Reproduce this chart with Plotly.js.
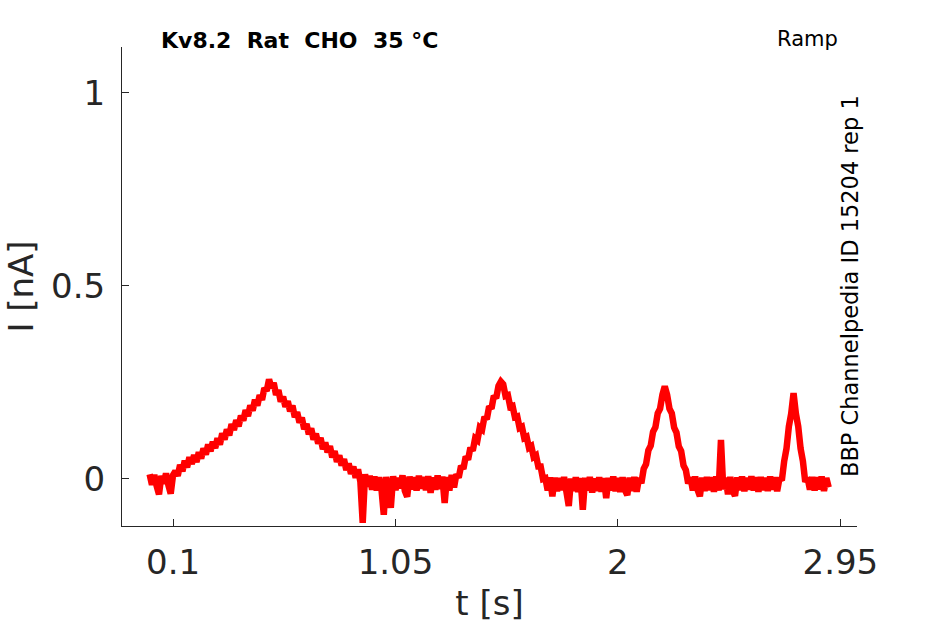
<!DOCTYPE html>
<html>
<head>
<meta charset="utf-8">
<script src="https://cdn.plot.ly/plotly-3.0.1.min.js"></script>
<style>
  html, body { margin: 0; padding: 0; background: #fff; }
  #chart { width: 945px; height: 624px; }
</style>
</head>
<body>
<div id="chart"></div>
<script>
// ── Recorded current, sampled every 10 ms from t = 0 s ─────────
var tStart = 0;
var tStep  = 0.01;

// 0.00 – 0.10 s  holding
var holdStart = [0.012, -0.015, 0.010, -0.018, -0.040, 0.008, -0.012, 0.014, -0.016, -0.038, 0.010];

// 0.11 – 0.51 s  slow ramp up
var ramp1Up = [0.020, 0.008, 0.036, 0.020, 0.047, 0.030, 0.056, 0.039, 0.062, 0.044,
               0.069, 0.053, 0.079, 0.063, 0.089, 0.072, 0.096, 0.080, 0.105, 0.089,
               0.118, 0.102, 0.128, 0.113, 0.142, 0.127, 0.152, 0.136, 0.164, 0.151,
               0.178, 0.163, 0.190, 0.177, 0.205, 0.190, 0.217, 0.205, 0.235, 0.228,
               0.258];

// 0.52 – 0.93 s  slow ramp down
var ramp1Down = [0.236, 0.249, 0.218, 0.230, 0.200, 0.213, 0.187, 0.201, 0.175, 0.190,
                 0.160, 0.173, 0.146, 0.159, 0.129, 0.142, 0.116, 0.131, 0.102, 0.117,
                 0.092, 0.106, 0.077, 0.094, 0.069, 0.085, 0.056, 0.072, 0.044, 0.061,
                 0.035, 0.051, 0.023, 0.040, 0.013, 0.032, 0.003, 0.025, -0.007, -0.114,
                 0.012, -0.020];

// 0.94 – 1.30 s  holding
var hold1 = [0.008, -0.028, 0.006, -0.030, 0.004, -0.026,
             -0.093, 0.005, -0.027, -0.075, 0.007, -0.029, 0.003, -0.024, 0.009, -0.031,
             -0.046, 0.006, -0.027, 0.004, -0.030, 0.008, -0.025, 0.005, -0.029, 0.007,
             -0.036, 0.004, -0.028, 0.009, -0.026, 0.006, -0.062, 0.005, -0.030, 0.010,
             -0.022];

// 1.31 – 1.50 s  ramp up
var ramp2Up = [0.012, 0.003, 0.034, 0.026, 0.058, 0.050, 0.081, 0.073, 0.105, 0.100,
               0.133, 0.128, 0.161, 0.155, 0.188, 0.182, 0.215, 0.209, 0.241, 0.252];

// 1.51 – 1.69 s  ramp down
var ramp2Down = [0.245, 0.215, 0.217, 0.187, 0.189, 0.160, 0.162, 0.132, 0.135, 0.106,
                 0.109, 0.081, 0.085, 0.057, 0.061, 0.032, 0.032, 0.000, 0.002];

// 1.70 – 2.09 s  holding
var hold2 = [-0.030, 0.004, -0.045, 0.003, -0.032, 0.002, -0.029, 0.005, -0.033, -0.070,
             0.001, -0.031, 0.004, -0.034, 0.002, -0.080, 0.003, -0.030, 0.005, -0.035,
             0.001, -0.031, 0.004, -0.033, 0.002, -0.050, 0.003, -0.030, 0.006, -0.032,
             0.002, -0.034, 0.004, -0.029, -0.042, 0.003, -0.031, 0.005, -0.033, 0.002];

// 2.10 – 2.30 s  fast ramp up and down
var ramp3 = [-0.011, 0.026, 0.038, 0.074, 0.086, 0.122, 0.134, 0.170, 0.182, 0.218,
             0.240, 0.218, 0.182, 0.170, 0.133, 0.120, 0.084, 0.072, 0.035, 0.023,
             -0.012];

// 2.31 – 2.69 s  holding
var hold3 = [0.004, -0.030, 0.006, -0.028, -0.045, 0.003, -0.031, 0.005, -0.029,
             0.004, -0.033, 0.006, -0.030, 0.101, -0.027, 0.003, -0.040, 0.005, -0.031,
             -0.044, 0.004, -0.029, 0.006, -0.032, 0.003, -0.028, 0.007, -0.030, 0.004,
             -0.033, 0.005, -0.029, 0.003, -0.031, 0.006, -0.028, 0.004, -0.032, 0.002];

// 2.70 – 2.80 s  fastest ramp
var ramp4 = [-0.004, 0.046, 0.079, 0.136, 0.169, 0.222, 0.169, 0.136, 0.079, 0.046, -0.008];

// 2.81 – 2.90 s  holding
var holdEnd = [0.003, -0.028, 0.005, -0.030, 0.004, -0.027, 0.006, -0.031, 0.002, -0.022];

// axis ticks
var xTicks  = [0.1, 1.05, 2, 2.95];
var xLabels = ['0.1', '1.05', '2', '2.95'];
var yTicks  = [0, 0.5, 1];
var yLabels = ['0', '0.5', '1'];

var current = [].concat(holdStart, ramp1Up, ramp1Down, hold1, ramp2Up, ramp2Down,
                        hold2, ramp3, hold3, ramp4, holdEnd);

// ── Style ─────────────────────────────────────────────────────
var AX   = '#262626';
var FONT = 'DejaVu Sans, sans-serif';

var trace = {
    y: current, x0: tStart, dx: tStep,
    type: 'scatter', mode: 'lines',
    line: { color: '#ff0000', width: 6.5, simplify: false },
    hoverinfo: 'skip', showlegend: false
};

var axisCommon = {
    showline: true, linecolor: AX, linewidth: 1,
    ticks: 'inside', ticklen: 7, tickwidth: 1, tickcolor: AX,
    showgrid: false, zeroline: false, mirror: false,
    tickfont: { family: FONT, size: 34, color: AX }
};

var layout = {
    width: 945, height: 624,
    margin: { l: 122, r: 88, t: 47, b: 98 },
    paper_bgcolor: '#fff', plot_bgcolor: '#fff',
    showlegend: false,
    xaxis: Object.assign({}, axisCommon, {
        range: [-0.118, 3.021],
        tickmode: 'array', tickvals: xTicks, ticktext: xLabels,
        ticklabelstandoff: 6,
        title: { text: 't [s]', font: { family: FONT, size: 34, color: AX }, standoff: 10 }
    }),
    yaxis: Object.assign({}, axisCommon, {
        range: [-0.122, 1.119],
        tickmode: 'array', tickvals: yTicks, ticktext: yLabels,
        ticklabelstandoff: 9,
        title: { text: 'I [nA]', font: { family: FONT, size: 34, color: AX }, standoff: 7 }
    }),
    annotations: [
        { xref: 'paper', yref: 'paper', x: 0.050, y: 1.0146, xanchor: 'left', yanchor: 'middle',
          text: '<b>Kv8.2\u00a0\u00a0Rat\u00a0\u00a0CHO\u00a0\u00a035\u00a0°C</b>', showarrow: false,
          font: { family: FONT, size: 22, color: '#000' } },
        { xref: 'paper', yref: 'paper', x: 0.932, y: 1.0167, xanchor: 'center', yanchor: 'middle',
          text: 'Ramp', showarrow: false,
          font: { family: FONT, size: 21, color: '#000' } },
        { xref: 'paper', yref: 'paper', x: 0.9905, y: 0.501, xanchor: 'center', yanchor: 'middle',
          text: 'BBP Channelpedia ID 15204 rep 1', textangle: -90, showarrow: false,
          font: { family: FONT, size: 22.5, color: '#000' } }
    ]
};

Plotly.newPlot('chart', [trace], layout, { displayModeBar: false, staticPlot: true });
</script>
</body>
</html>
